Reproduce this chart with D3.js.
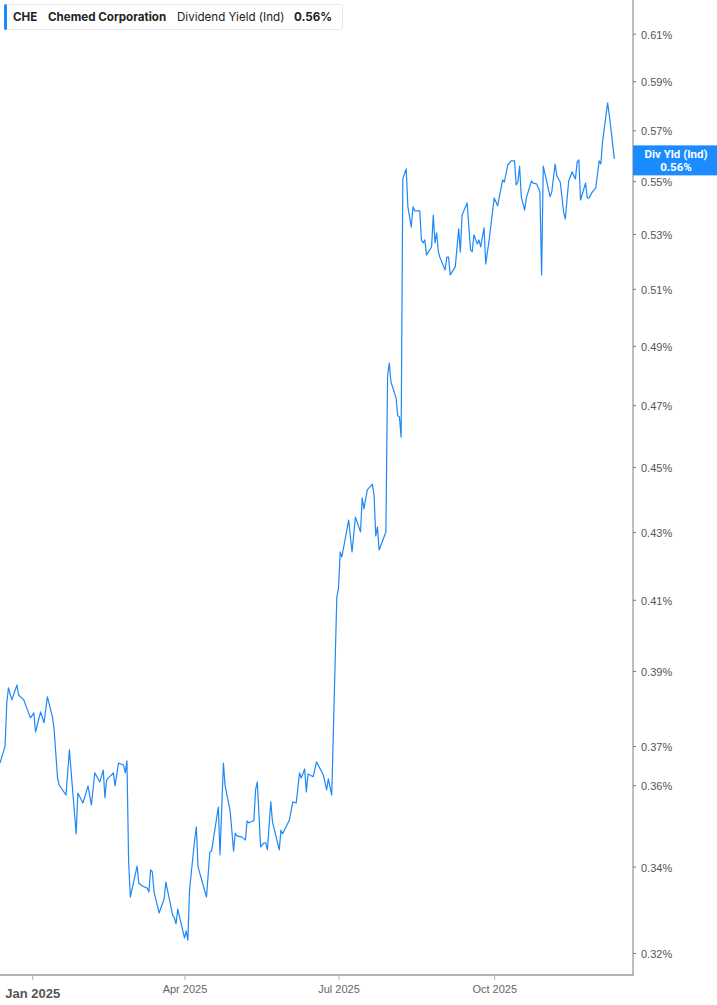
<!DOCTYPE html>
<html>
<head>
<meta charset="utf-8">
<script src="https://cdn.jsdelivr.net/npm/d3@7"></script>
<style>
  body { margin: 0; background: #fff; }
  svg { display: block; font-family: Roboto, "Noto Sans", sans-serif; }
</style>
</head>
<body>
<svg id="chart"></svg>
<script>
// Dividend yield (Ind), %
const dates = [
  "2024-12-13","2024-12-16","2024-12-17","2024-12-18","2024-12-20","2024-12-23","2024-12-24","2024-12-27","2024-12-31",
  "2025-01-02","2025-01-03","2025-01-06","2025-01-08","2025-01-10","2025-01-13","2025-01-14","2025-01-16","2025-01-17",
  "2025-01-21","2025-01-23","2025-01-25","2025-01-27","2025-01-28","2025-01-31",
  "2025-02-03","2025-02-05","2025-02-07","2025-02-10","2025-02-12","2025-02-13","2025-02-14","2025-02-18","2025-02-19",
  "2025-02-21","2025-02-24","2025-02-25","2025-02-26","2025-02-27","2025-02-28",
  "2025-03-04","2025-03-05","2025-03-07","2025-03-10","2025-03-11","2025-03-12","2025-03-13","2025-03-14","2025-03-17",
  "2025-03-20","2025-03-21","2025-03-25","2025-03-26","2025-03-27","2025-03-28",
  "2025-04-01","2025-04-02","2025-04-03","2025-04-04","2025-04-07","2025-04-08","2025-04-09","2025-04-14","2025-04-16",
  "2025-04-17","2025-04-21","2025-04-22","2025-04-24","2025-04-25","2025-04-28","2025-04-30",
  "2025-05-01","2025-05-02","2025-05-05","2025-05-07","2025-05-08","2025-05-09","2025-05-12","2025-05-13","2025-05-14",
  "2025-05-16","2025-05-18","2025-05-19","2025-05-20","2025-05-22","2025-05-23","2025-05-27","2025-05-28","2025-05-29",
  "2025-06-02","2025-06-04","2025-06-06","2025-06-08","2025-06-09","2025-06-11","2025-06-12","2025-06-13","2025-06-16",
  "2025-06-18","2025-06-22","2025-06-24","2025-06-25","2025-06-27","2025-06-30",
  "2025-07-01","2025-07-02","2025-07-03","2025-07-07","2025-07-09","2025-07-11","2025-07-14","2025-07-15","2025-07-16",
  "2025-07-18","2025-07-21","2025-07-22","2025-07-23","2025-07-24","2025-07-25","2025-07-29","2025-07-30","2025-07-31",
  "2025-08-01","2025-08-04","2025-08-05","2025-08-06","2025-08-07","2025-08-08","2025-08-10","2025-08-11","2025-08-13",
  "2025-08-14","2025-08-15","2025-08-18","2025-08-19","2025-08-20","2025-08-21","2025-08-22","2025-08-25","2025-08-26",
  "2025-08-27","2025-08-28","2025-08-29","2025-08-30",
  "2025-09-02","2025-09-03","2025-09-04","2025-09-05","2025-09-08","2025-09-10","2025-09-11","2025-09-12","2025-09-15",
  "2025-09-17","2025-09-18","2025-09-19","2025-09-21","2025-09-22","2025-09-23","2025-09-25","2025-09-26","2025-09-28",
  "2025-10-01","2025-10-03","2025-10-06","2025-10-07","2025-10-09","2025-10-11","2025-10-13","2025-10-14","2025-10-15",
  "2025-10-16","2025-10-17","2025-10-19","2025-10-20","2025-10-23","2025-10-24","2025-10-26","2025-10-28","2025-10-29",
  "2025-10-30",
  "2025-11-03","2025-11-04","2025-11-06","2025-11-07","2025-11-09","2025-11-11","2025-11-12","2025-11-14","2025-11-16",
  "2025-11-18","2025-11-19","2025-11-20","2025-11-21","2025-11-24","2025-11-25","2025-11-26","2025-11-28","2025-11-30",
  "2025-12-02","2025-12-03","2025-12-04","2025-12-07","2025-12-08","2025-12-11"
];

const yieldPct = [
  0.3656,0.3700,0.3814,0.3854,0.3822,0.3862,0.3835,0.3822,0.3774,
  0.3787,0.3737,0.3790,0.3761,0.3830,0.3776,0.3742,0.3618,0.3600,
  0.3575,0.3690,0.3583,0.3479,0.3580,0.3555,
  0.3598,0.3550,0.3631,0.3608,0.3638,0.3568,0.3613,0.3631,0.3598,
  0.3656,0.3651,0.3631,0.3662,0.3411,0.3328,
  0.3401,0.3361,0.3354,0.3349,0.3340,0.3392,0.3387,0.3340,0.3291,
  0.3324,0.3363,0.3286,0.3280,0.3266,0.3300,
  0.3234,0.3250,0.3229,0.3345,0.3464,0.3496,0.3399,0.3328,0.3435,
  0.3437,0.3545,0.3428,0.3656,0.3598,0.3535,0.3437,
  0.3481,0.3474,0.3471,0.3464,0.3511,0.3506,0.3511,0.3588,0.3608,
  0.3447,0.3457,0.3457,0.3440,0.3558,0.3508,0.3440,0.3488,0.3479,
  0.3513,0.3558,0.3555,0.3631,0.3618,0.3641,0.3583,0.3628,0.3621,
  0.3659,0.3626,0.3588,0.3616,0.3575,0.4108,
  0.4134,0.4240,0.4225,0.4336,0.4240,0.4345,0.4300,0.4404,0.4370,
  0.4429,0.4447,0.4413,0.4288,0.4315,0.4246,0.4300,0.4797,0.4841,
  0.4777,0.4724,0.4665,0.4661,0.4596,0.5509,0.5548,0.5402,0.5326,
  0.5402,0.5387,0.5387,0.5278,0.5267,0.5278,0.5223,0.5252,0.5371,
  0.5267,0.5304,0.5234,0.5212,
  0.5168,0.5215,0.5215,0.5150,0.5179,0.5319,0.5234,0.5371,0.5417,
  0.5241,0.5234,0.5297,0.5263,0.5278,0.5252,0.5323,0.5190,0.5278,
  0.5436,0.5406,0.5505,0.5497,0.5563,0.5579,0.5579,0.5486,0.5497,
  0.5559,0.5440,0.5390,0.5436,0.5501,0.5493,0.5490,0.5459,0.5150,
  0.5559,
  0.5440,0.5459,0.5567,0.5520,0.5497,0.5382,0.5356,0.5501,0.5536,
  0.5509,0.5575,0.5583,0.5428,0.5493,0.5436,0.5436,0.5459,0.5474,
  0.5579,0.5567,0.5654,0.5811,0.5762,0.5587
];

const yTicks = [0.32, 0.34, 0.36, 0.37, 0.39, 0.41, 0.43, 0.45, 0.47, 0.49, 0.51, 0.53, 0.55, 0.57, 0.59, 0.61];
const xTicks = ["2025-01-01", "2025-04-01", "2025-07-01", "2025-10-01"];
const lastLabel = "0.56%";

const W = 717, H = 1005;
const plotRight = 633, plotBottom = 974;
const parse = d3.timeParse("%Y-%m-%d");
const lineColor = "#1e88f5";

const data = dates.map((d, i) => ({ date: parse(d), value: yieldPct[i] }));

const svg = d3.select("#chart")
  .attr("width", W)
  .attr("height", H);

// scales
const x = d3.scaleTime()
  .domain([parse("2024-12-13"), parse("2025-12-22")])
  .range([0, plotRight]);

const y = d3.scaleLog()
  .domain([0.3153, 0.6246])
  .range([plotBottom, 0]);

// line
const line = d3.line()
  .x(d => x(d.date))
  .y(d => y(d.value));

svg.append("path")
  .datum(data)
  .attr("fill", "none")
  .attr("stroke", lineColor)
  .attr("stroke-width", 1.2)
  .attr("stroke-linejoin", "round")
  .attr("d", line);

// x axis
const xAxis = svg.append("g")
  .attr("transform", `translate(0,${plotBottom})`)
  .call(d3.axisBottom(x)
    .tickValues(xTicks.map(parse))
    .tickSize(6)
    .tickPadding(5)
    .tickFormat(d3.timeFormat("%b %Y")));

xAxis.select(".domain")
  .attr("stroke", "#b4b4b4")
  .attr("stroke-width", 2)
  .attr("d", `M0,1H${plotRight}`);
xAxis.selectAll(".tick line").attr("stroke", "#b4b4b4").attr("stroke-width", 1);
xAxis.selectAll(".tick text")
  .attr("fill", "#666")
  .style("font-size", "11px")
  .style("font-weight", "500");
xAxis.selectAll(".tick text")
  .filter((d, i) => i === 0)
  .attr("fill", "#555")
  .attr("dy", "1em")
  .style("font-size", "13px")
  .style("font-weight", "bold");

// y axis on the right
const yAxis = svg.append("g")
  .attr("transform", `translate(${plotRight},0)`)
  .call(d3.axisRight(y)
    .tickValues(yTicks)
    .tickSize(3)
    .tickPadding(5)
    .tickFormat(d => d.toFixed(2) + "%"));

yAxis.select(".domain")
  .attr("stroke", "#a8a8a8")
  .attr("stroke-width", 1.5)
  .attr("d", `M0,0V${plotBottom + 2}`);
yAxis.selectAll(".tick line").attr("stroke", "#777");
yAxis.selectAll(".tick text")
  .attr("fill", "#555")
  .attr("dy", "0.42em")
  .style("font-size", "11px");

// last value tag
const lastY = y(yieldPct[yieldPct.length - 1]);
const tag = svg.append("g")
  .attr("transform", `translate(${plotRight},${lastY})`);
tag.append("rect")
  .attr("x", 0)
  .attr("y", -13.5)
  .attr("width", W - plotRight)
  .attr("height", 30)
  .attr("fill", "#1a8cff");
tag.append("text")
  .attr("x", (W - plotRight) / 2 + 1)
  .attr("y", -1)
  .attr("text-anchor", "middle")
  .attr("fill", "#fff")
  .style("font-size", "11.5px")
  .style("font-weight", "bold")
  .text("Div Yld (Ind)");
tag.append("text")
  .attr("x", (W - plotRight) / 2 + 1)
  .attr("y", 12)
  .attr("text-anchor", "middle")
  .attr("fill", "#fff")
  .style("font-size", "11.5px")
  .style("font-weight", "bold")
  .text(lastLabel);

// header legend
const header = svg.append("g").style("font-family", "Inter, Roboto, sans-serif");
header.append("rect")
  .attr("x", 4.5).attr("y", 4.5)
  .attr("width", 338).attr("height", 25)
  .attr("rx", 3)
  .attr("fill", "#fff")
  .attr("stroke", "#e6e6e6");
header.append("rect")
  .attr("x", 4).attr("y", 4)
  .attr("width", 3).attr("height", 26)
  .attr("rx", 1.5)
  .attr("fill", "#1a8cff");

const headerItems = [
  { x: 13, text: "CHE", weight: "bold" },
  { x: 48, text: "Chemed Corporation", weight: "bold" },
  { x: 177, text: "Dividend Yield (Ind)", weight: "normal" },
  { x: 294, text: lastLabel, weight: "bold" }
];
header.selectAll("text")
  .data(headerItems)
  .enter().append("text")
  .attr("x", d => d.x)
  .attr("y", 21)
  .attr("fill", "#222")
  .style("font-size", "11.6px")
  .style("font-weight", d => d.weight)
  .text(d => d.text);
</script>
</body>
</html>
